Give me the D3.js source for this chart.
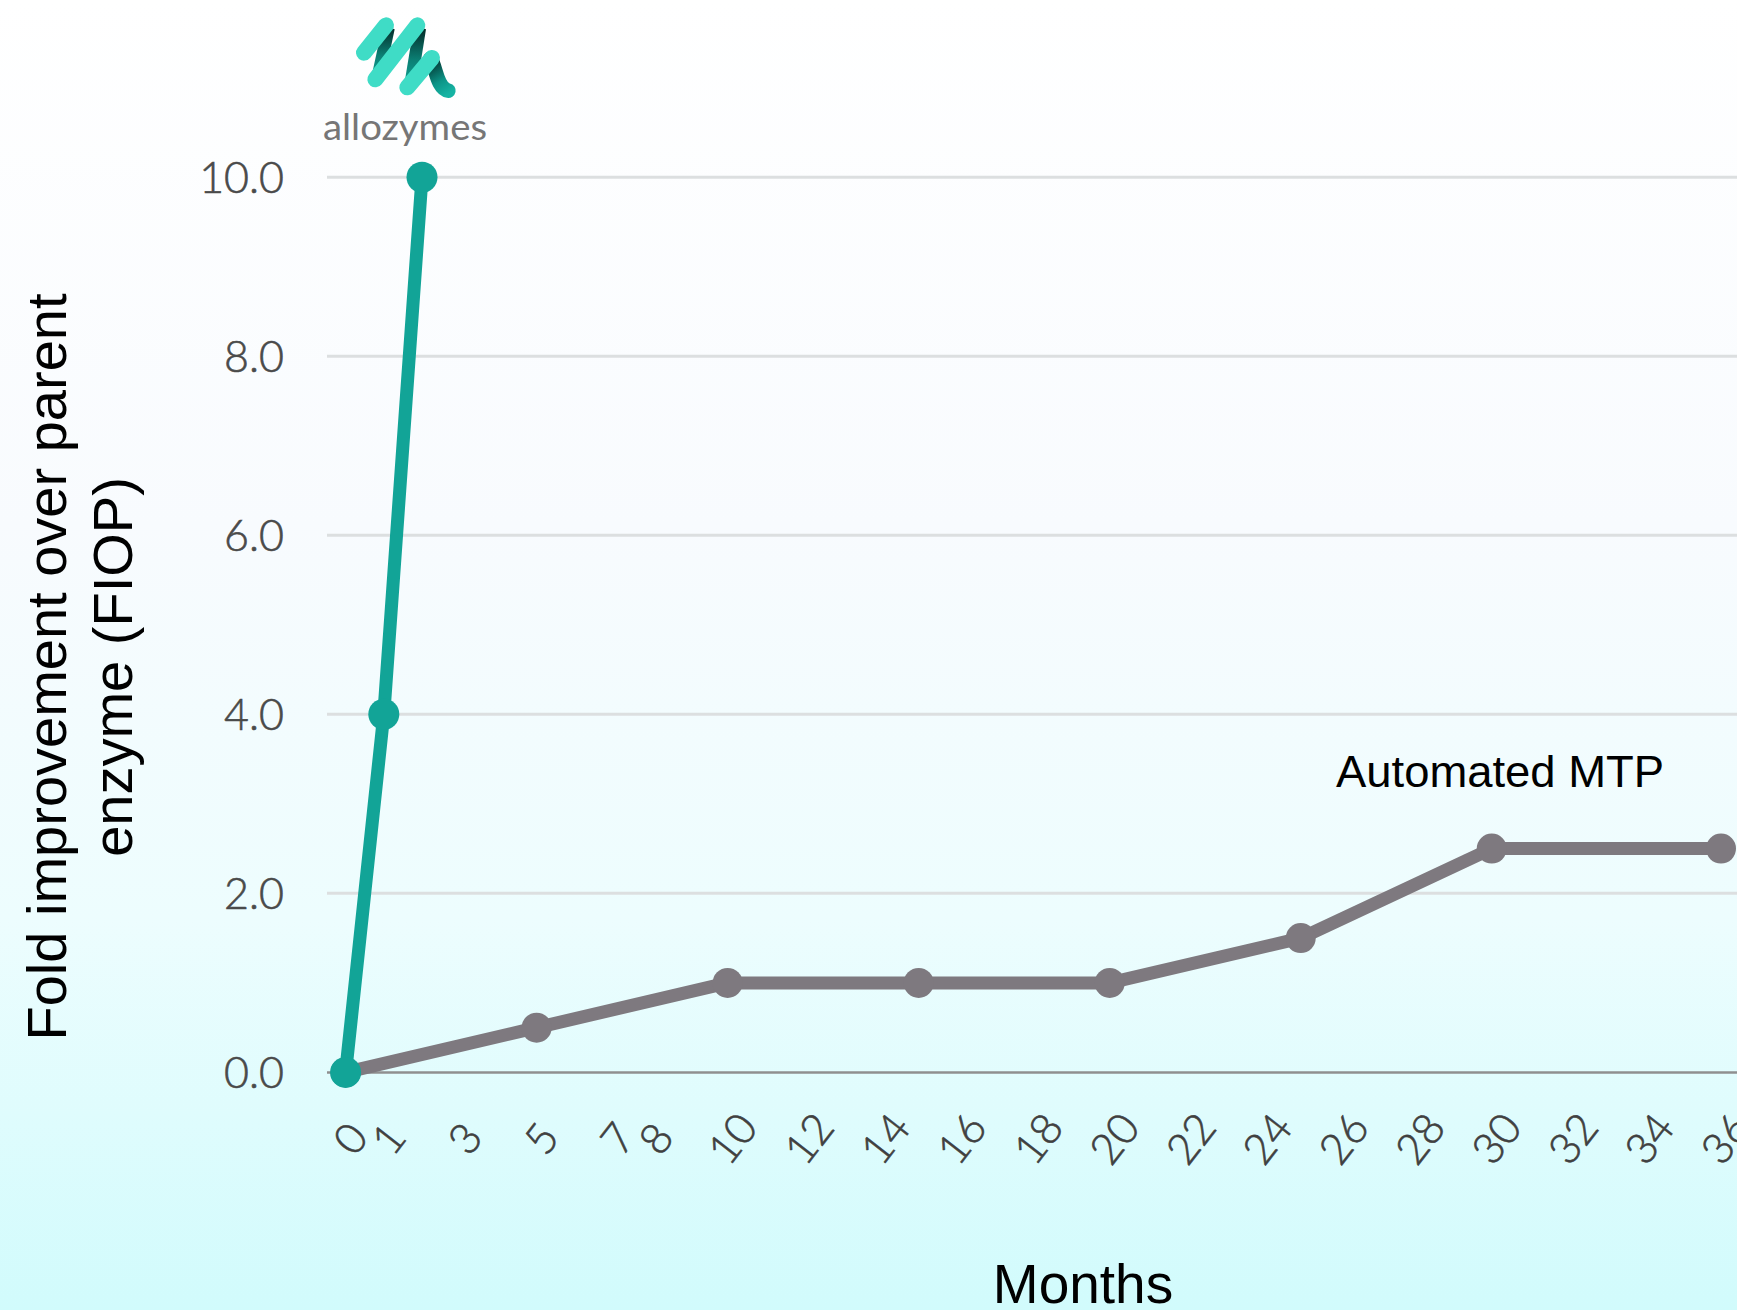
<!DOCTYPE html>
<html>
<head>
<meta charset="utf-8">
<script src="https://cdn.jsdelivr.net/npm/d3@7"></script>
<style>
  html, body { margin: 0; padding: 0; overflow: hidden; }
  body { width: 1737px; height: 1310px; }
</style>
</head>
<body>
<svg id="chart" width="1737" height="1310"></svg>
<script>
// Month ticks shown under the x axis
const monthTicks = [0, 1, 3, 5, 7, 8, 10, 12, 14, 16, 18, 20, 22, 24, 26, 28, 30, 32, 34, 36];
// FIOP ticks on the y axis
const fiopTicks = [0, 2, 4, 6, 8, 10];

// Allozymes series
const allozymesMonths = [0, 1, 2];
const allozymesFiop = [0, 4, 10];

// Automated MTP series
const mtpMonths = [0, 5, 10, 15, 20, 25, 30, 36];
const mtpFiop = [0, 0.5, 1.0, 1.0, 1.0, 1.5, 2.5, 2.5];

const W = 1737, H = 1310;
const svg = d3.select("#chart");

// background wash: white at the top fading to pale aqua
const defs = svg.append("defs");
const bg = defs.append("linearGradient").attr("id", "bg")
  .attr("x1", 0).attr("y1", 0).attr("x2", 0).attr("y2", 1);
bg.append("stop").attr("offset", "0%").attr("stop-color", "#ffffff");
bg.append("stop").attr("offset", "40%").attr("stop-color", "#f8fbfe");
bg.append("stop").attr("offset", "70%").attr("stop-color", "#edfdfe");
bg.append("stop").attr("offset", "100%").attr("stop-color", "#d1fbfc");
svg.append("rect").attr("width", W).attr("height", H).attr("fill", "url(#bg)");

const x = d3.scaleLinear().domain([0, 36]).range([345.6, 1721]);
const y = d3.scaleLinear().domain([0, 10]).range([1072.4, 177.2]);

// horizontal grid
const grid = svg.append("g");
grid.selectAll("line").data(fiopTicks).join("line")
  .attr("x1", 327).attr("x2", W)
  .attr("y1", d => y(d)).attr("y2", d => y(d))
  .attr("stroke", d => d === 0 ? "#8f8f8f" : "#dcdfe0")
  .attr("stroke-width", d => d === 0 ? 2.5 : 3);

// y axis labels
const yAxis = d3.axisLeft(y).tickValues(fiopTicks).tickFormat(d3.format(".1f")).tickSize(0).tickPadding(0);
const yg = svg.append("g").attr("transform", "translate(284,0)").call(yAxis);
yg.select(".domain").remove();
yg.selectAll("text")
  .attr("font-family", "Lato, 'Open Sans', sans-serif")
  .attr("font-weight", 300)
  .attr("font-size", 43)
  .attr("fill", "#4a4a4a")
  .attr("stroke", "#4a4a4a").attr("stroke-width", 0.6)
  .attr("dy", "0.36em");

// x axis labels, tilted
const xAxis = d3.axisBottom(x).tickValues(monthTicks).tickFormat(d => d).tickSize(0);
const xg = svg.append("g").attr("transform", "translate(0,1072.4)").call(xAxis);
xg.select(".domain").remove();
xg.selectAll("text")
  .attr("font-family", "Lato, 'Open Sans', sans-serif")
  .attr("font-weight", 300)
  .attr("font-size", 43)
  .attr("fill", "#404040")
  .attr("stroke", "#404040").attr("stroke-width", 0.6)
  .attr("text-anchor", "middle")
  .attr("dy", "0.36em")
  .attr("y", 0)
  .attr("transform", "translate(4,66) rotate(-52)");

// series lines and markers
const line = d3.line().x(d => x(d[0])).y(d => y(d[1]));
const mtpData = mtpMonths.map((m, i) => [m, mtpFiop[i]]);
const alloData = allozymesMonths.map((m, i) => [m, allozymesFiop[i]]);

const grey = "#7e797f", teal = "#12a497";

svg.append("path").datum(mtpData).attr("d", line)
  .attr("fill", "none").attr("stroke", grey).attr("stroke-width", 13)
  .attr("stroke-linejoin", "round");
svg.append("g").selectAll("circle").data(mtpData).join("circle")
  .attr("cx", d => x(d[0])).attr("cy", d => y(d[1])).attr("r", 15).attr("fill", grey);

svg.append("path").datum(alloData).attr("d", line)
  .attr("fill", "none").attr("stroke", teal).attr("stroke-width", 13)
  .attr("stroke-linejoin", "round");
svg.append("g").selectAll("circle").data(alloData).join("circle")
  .attr("cx", d => x(d[0])).attr("cy", d => y(d[1])).attr("r", 15.5).attr("fill", teal);

// series annotation
svg.append("text").attr("x", 1336).attr("y", 787)
  .attr("font-family", "'Liberation Sans', Arial, Helvetica, sans-serif")
  .attr("font-size", 44).attr("fill", "#000")
  .attr("textLength", 328).attr("lengthAdjust", "spacingAndGlyphs")
  .text("Automated MTP");

// axis titles
svg.append("text").attr("x", 1083).attr("y", 1303)
  .attr("text-anchor", "middle")
  .attr("font-family", "'Liberation Sans', Arial, Helvetica, sans-serif")
  .attr("font-size", 55).attr("fill", "#000")
  .text("Months");

const yTitle = svg.append("text")
  .attr("transform", "translate(0,667) rotate(-90)")
  .attr("text-anchor", "middle")
  .attr("font-family", "'Liberation Sans', Arial, Helvetica, sans-serif")
  .attr("font-size", 56).attr("fill", "#000");
yTitle.append("tspan").attr("x", 0).attr("y", 66).text("Fold improvement over parent");
yTitle.append("tspan").attr("x", 0).attr("y", 132).text("enzyme (FIOP)");

// allozymes logo: twisted ribbon mark with wordmark
const dark = defs.append("linearGradient").attr("id", "ribbonDark")
  .attr("x1", 0).attr("y1", 0).attr("x2", 0).attr("y2", 1);
dark.append("stop").attr("offset", "0%").attr("stop-color", "#03221f");
dark.append("stop").attr("offset", "55%").attr("stop-color", "#0b7f74");
dark.append("stop").attr("offset", "100%").attr("stop-color", "#10a898");

const tail = defs.append("linearGradient").attr("id", "ribbonTail")
  .attr("gradientUnits", "userSpaceOnUse")
  .attr("x1", 400).attr("y1", 180).attr("x2", 455).attr("y2", 275);
tail.append("stop").attr("offset", "0%").attr("stop-color", "#04302c");
tail.append("stop").attr("offset", "60%").attr("stop-color", "#0c9487");
tail.append("stop").attr("offset", "100%").attr("stop-color", "#16b3a3");

const logo = svg.append("g").attr("transform", "translate(300,0) scale(0.3333)");
const light = "#3fdcc6";
// back faces of the ribbon
logo.append("path").attr("d", "M248,76 L284,88 L252,240 L214,232 Z").attr("fill", "url(#ribbonDark)");
logo.append("path").attr("d", "M342,76 L378,88 L350,264 L312,258 Z").attr("fill", "url(#ribbonDark)");
logo.append("path").attr("d", "M392,176 C408,200 410,265 445,272")
  .attr("fill", "none").attr("stroke", "url(#ribbonTail)").attr("stroke-width", 44).attr("stroke-linecap", "round");
// front faces
logo.append("line").attr("x1", 192).attr("y1", 158).attr("x2", 258).attr("y2", 76)
  .attr("stroke", light).attr("stroke-width", 48).attr("stroke-linecap", "round");
logo.append("line").attr("x1", 226).attr("y1", 238).attr("x2", 352).attr("y2", 76)
  .attr("stroke", light).attr("stroke-width", 48).attr("stroke-linecap", "round");
logo.append("line").attr("x1", 322).attr("y1", 262).attr("x2", 396).attr("y2", 174)
  .attr("stroke", light).attr("stroke-width", 48).attr("stroke-linecap", "round");

svg.append("text").attr("x", 323).attr("y", 140)
  .attr("font-family", "Lato, 'Open Sans', sans-serif")
  .attr("font-size", 36).attr("fill", "#767676")
  .attr("textLength", 164).attr("lengthAdjust", "spacingAndGlyphs")
  .text("allozymes");
</script>
</body>
</html>
